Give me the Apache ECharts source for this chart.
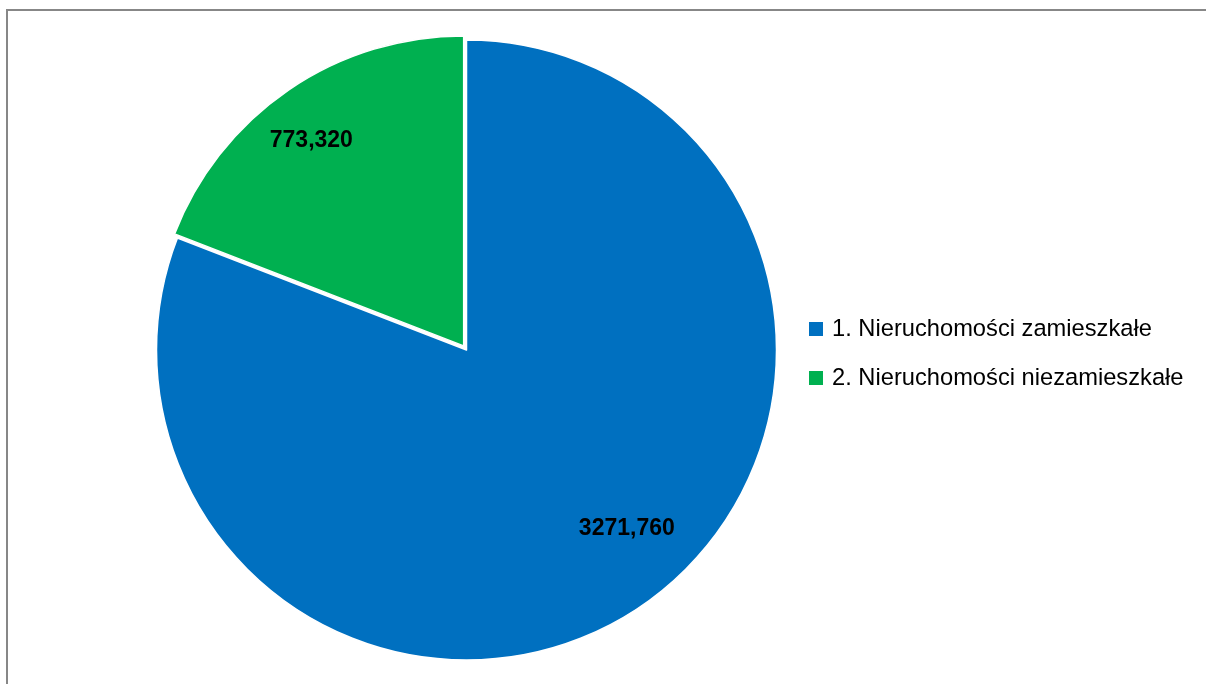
<!DOCTYPE html>
<html>
<head>
<meta charset="utf-8">
<script src="https://cdn.jsdelivr.net/npm/echarts@6/dist/echarts.min.js"></script>
<style>
  html, body { margin: 0; padding: 0; background: #ffffff; overflow: hidden; }
  #frame { position: absolute; left: 6px; top: 9px; width: 1300px; height: 800px; border: 2px solid #878787; box-sizing: border-box; }
  #chart { position: absolute; left: 0; top: 0; width: 1206px; height: 684px; }
</style>
</head>
<body>
<div id="frame"></div>
<div id="chart"></div>
<script>
const categories = ['1. Nieruchomości zamieszkałe', '2. Nieruchomości niezamieszkałe'];
const values = [3271.76, 773.32];
const colors = ['#0070C0', '#00B050'];

function fmt(v) { return v.toFixed(3).replace('.', ','); }

const labelOffsets = [[23, -22], [-15, -5]];

const chart = echarts.init(document.getElementById('chart'));
const mainData = categories.map((name, i) => ({
  name: name,
  value: values[i],
  selected: i === 1,
  itemStyle: { color: colors[i] }
}));
const labelData = categories.map((name, i) => ({
  name: name,
  value: values[i],
  selected: i === 1,
  itemStyle: { color: 'rgba(0,0,0,0)' },
  label: { offset: labelOffsets[i] },
  select: { label: { offset: labelOffsets[i] } }
}));

chart.setOption({
  animation: false,
  backgroundColor: 'transparent',
  legend: {
    orient: 'vertical',
    left: 804,
    top: 312,
    itemWidth: 14,
    itemHeight: 14,
    itemGap: 25,
    icon: 'rect',
    itemStyle: { borderWidth: 0 },
    data: categories,
    textStyle: { fontFamily: 'Liberation Sans', fontSize: 23.7, lineHeight: 24, color: '#000000', padding: [0, 0, 0, 4] },
    selectedMode: false
  },
  series: [
    {
      type: 'pie',
      center: [466.5, 350],
      radius: [0, 310],
      startAngle: 90,
      clockwise: true,
      selectedMode: 'single',
      selectedOffset: 5,
      label: { show: false },
      labelLine: { show: false },
      emphasis: { disabled: true },
      itemStyle: { borderColor: '#ffffff', borderWidth: 1.5 },
      data: mainData
    },
    {
      type: 'pie',
      center: [466.5, 350],
      radius: [170, 310],
      startAngle: 90,
      clockwise: true,
      selectedMode: 'single',
      selectedOffset: 5,
      silent: true,
      emphasis: { disabled: true },
      legendHoverLink: false,
      labelLine: { show: false },
      label: {
        show: true,
        position: 'inside',
        formatter: p => fmt(p.value),
        fontFamily: 'Liberation Sans',
        fontWeight: 'bold',
        fontSize: 23,
        color: '#000000'
      },
      data: labelData
    }
  ]
});
</script>
</body>
</html>
